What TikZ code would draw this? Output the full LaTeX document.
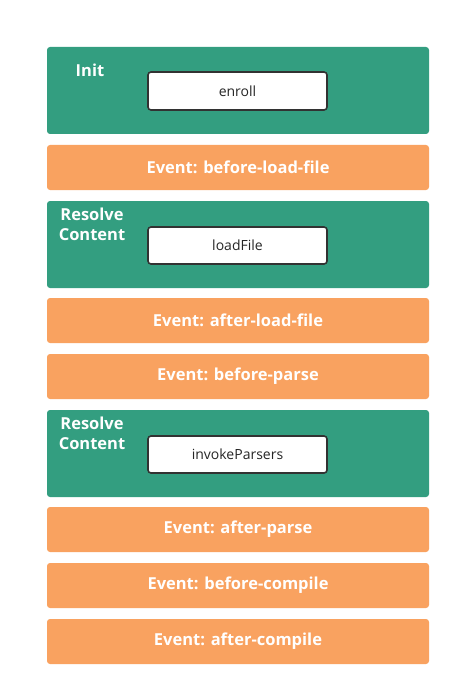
\documentclass[tikz,border=0pt]{standalone}
\usepackage{fontspec}
\setmainfont{Open Sans}
\definecolor{grn}{RGB}{51,158,128}
\definecolor{org}{RGB}{249,162,96}
\definecolor{brd}{RGB}{50,50,50}
\begin{document}
\begin{tikzpicture}[x=1pt,y=-1pt,
  stage/.style={fill=grn,rounded corners=3pt,draw=none},
  evt/.style={fill=org,rounded corners=3pt,draw=none,text=white,font=\fontsize{16.5}{19}\selectfont\bfseries},
  fn/.style={fill=white,draw=brd,line width=1.6pt,rounded corners=3pt,font=\fontsize{14}{16}\selectfont,text=black!85},
  lbl/.style={text=white,font=\fontsize{16.5}{20}\selectfont\bfseries,align=center,inner sep=0pt}]
\useasboundingbox (0,0) rectangle (460,695);
% stages
\fill[stage] (47,47) rectangle (429,134);
\fill[stage] (47,201) rectangle (429,288);
\fill[stage] (47,410) rectangle (429,497);
% events
\path[evt] (47,145) rectangle node (e1) {Event: before-load-file} (429,190);
\path[evt] (47,298) rectangle node (e2) {Event: after-load-file} (429,343);
\path[evt] (47,354) rectangle node (e3) {Event: before-parse} (429,399);
\path[evt] (47,507) rectangle node (e4) {Event: after-parse} (429,552);
\path[evt] (47,563) rectangle node (e5) {Event: before-compile} (429,608);
\path[evt] (47,619) rectangle node (e6) {Event: after-compile} (429,664);
% labels
\node[lbl] (l1) at (90,70) {Init};
\node[lbl] (l2) at (92,224) {Resolve\\Content};
\node[lbl] (l3) at (92,433) {Resolve\\Content};
% functions
\path[fn] (148,72) rectangle node (f1) {enroll} (327,110);
\path[fn] (148,227) rectangle node (f2) {loadFile} (327,264);
\path[fn] (148,436) rectangle node (f3) {invokeParsers} (327,473);
\end{tikzpicture}
\end{document}
